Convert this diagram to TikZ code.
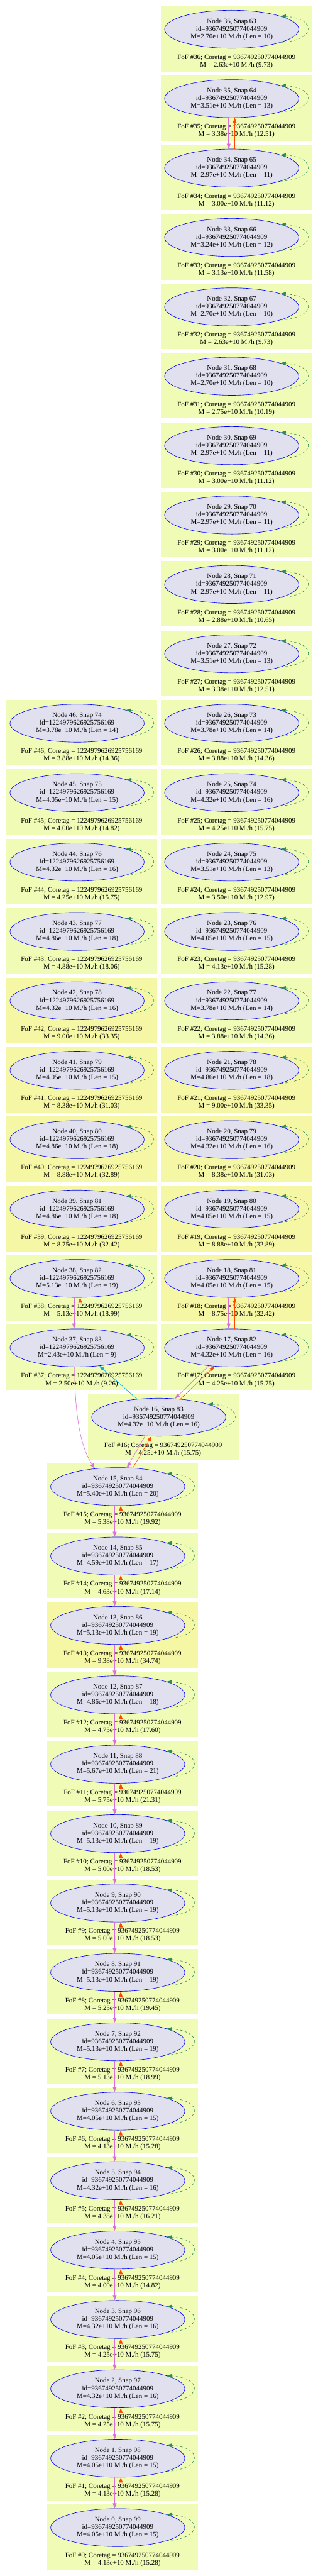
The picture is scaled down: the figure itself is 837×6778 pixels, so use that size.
\documentclass[tikz,border=0pt]{standalone}
\usepackage{fontspec}
\setmainfont{Liberation Serif}
\usetikzlibrary{shapes.geometric, arrows.meta}

\definecolor{halofill}{RGB}{224,224,238}
\definecolor{boxa}{RGB}{240,251,182}
\definecolor{boxb}{RGB}{246,247,164}
\definecolor{orchidpink}{RGB}{218,112,214}
\definecolor{redorange}{RGB}{255,69,0}
\definecolor{loopgreen}{RGB}{46,139,87}

\begin{document}
\begin{tikzpicture}[x=0.75pt, y=-0.75pt]

  \tikzstyle{halo} = [ellipse, draw=blue, fill=halofill, line width=0.8pt, minimum width=265pt, minimum height=75pt, inner sep=0pt, align=center, font=\fontsize{13.6}{15}\selectfont]
  \tikzstyle{fof} = [align=center, font=\fontsize{13.6}{15}\selectfont]
  \tikzstyle{tip} = [-{Triangle[length=10pt, width=7.5pt]}]
  \tikzstyle{descent} = [tip, draw=orchidpink, line width=0.8pt]
  \tikzstyle{progenitor} = [tip, draw=redorange, line width=0.8pt]
  \tikzstyle{selfedge} = [tip, draw=loopgreen, line width=0.8pt, dash pattern=on 4.5pt off 4.5pt]

  \fill[white] (0,0) rectangle (837,6778);
  \useasboundingbox (0,0) rectangle (837,6778);

  % main branch, snaps 63 to 82
  \foreach \nn/\snap/\mass/\hlen/\fmass/\fratio/\shade in {36/63/2.70/10/2.63/9.73/boxa, 35/64/3.51/13/3.38/12.51/boxa, 34/65/2.97/11/3.00/11.12/boxa, 33/66/3.24/12/3.13/11.58/boxa, 32/67/2.70/10/2.63/9.73/boxa, 31/68/2.70/10/2.75/10.19/boxa, 30/69/2.97/11/3.00/11.12/boxa, 29/70/2.97/11/3.00/11.12/boxa, 28/71/2.97/11/2.88/10.65/boxa, 27/72/3.51/13/3.38/12.51/boxa, 26/73/3.78/14/3.88/14.36/boxa, 25/74/4.32/16/4.25/15.75/boxa, 24/75/3.51/13/3.50/12.97/boxa, 23/76/4.05/15/4.13/15.28/boxa, 22/77/3.78/14/3.88/14.36/boxa, 21/78/4.86/18/9.00/33.35/boxb, 20/79/4.32/16/8.38/31.03/boxb, 19/80/4.05/15/8.88/32.89/boxb, 18/81/4.05/15/8.75/32.42/boxb, 17/82/4.32/16/4.25/15.75/boxa} {
    \pgfmathsetmacro\cy{77+182.6*(36-\nn)}
    \fill[\shade] (423,\cy-61) rectangle (822,\cy+111);
    \node (n\nn) [halo] at (610,\cy) {Node \nn, Snap \snap\\id=936749250774044909\\M=\mass e+10 M./h (Len = \hlen)};
    \node (f\nn) [fof] at (622.5,\cy+85) {FoF \#\nn; Coretag = 936749250774044909\\M = \fmass e+10 M./h (\fratio)};
    \draw[selfedge] (n\nn.-15) .. controls +(95,-6) and +(95,6) .. (n\nn.15);
  }

  % merging branch, snaps 74 to 83
  \foreach \nn/\snap/\mass/\hlen/\fmass/\fratio/\shade in {46/74/3.78/14/3.88/14.36/boxa, 45/75/4.05/15/4.00/14.82/boxa, 44/76/4.32/16/4.25/15.75/boxa, 43/77/4.86/18/4.88/18.06/boxa, 42/78/4.32/16/9.00/33.35/boxb, 41/79/4.05/15/8.38/31.03/boxb, 40/80/4.86/18/8.88/32.89/boxb, 39/81/4.86/18/8.75/32.42/boxb, 38/82/5.13/19/5.13/18.99/boxa, 37/83/2.43/9/2.50/9.26/boxa} {
    \pgfmathsetmacro\cy{77+182.6*(56-\nn)}
    \fill[\shade] (16,\cy-61) rectangle (414,\cy+111);
    \node (n\nn) [halo] at (203,\cy) {Node \nn, Snap \snap\\id=1224979626925756169\\M=\mass e+10 M./h (Len = \hlen)};
    \node (f\nn) [fof] at (215,\cy+85) {FoF \#\nn; Coretag = 1224979626925756169\\M = \fmass e+10 M./h (\fratio)};
    \draw[selfedge] (n\nn.-15) .. controls +(95,-6) and +(95,6) .. (n\nn.15);
  }

  % node 16
  \fill[boxa] (231,3668) rectangle (628,3840);
  \node (n16) [halo] at (418,3729) {Node 16, Snap 83\\id=936749250774044909\\M=4.32e+10 M./h (Len = 16)};
  \node (f16) [fof] at (429.5,3814) {FoF \#16; Coretag = 936749250774044909\\M = 4.25e+10 M./h (15.75)};
  \draw[selfedge] (n16.-15) .. controls +(95,-6) and +(95,6) .. (n16.15);

  % after the merger, snaps 84 to 99
  \foreach \nn/\snap/\mass/\hlen/\fmass/\fratio/\shade in {15/84/5.40/20/5.38/19.92/boxa, 14/85/4.59/17/4.63/17.14/boxa, 13/86/5.13/19/9.38/34.74/boxb, 12/87/4.86/18/4.75/17.60/boxa, 11/88/5.67/21/5.75/21.31/boxa, 10/89/5.13/19/5.00/18.53/boxa, 9/90/5.13/19/5.00/18.53/boxa, 8/91/5.13/19/5.25/19.45/boxa, 7/92/5.13/19/5.13/18.99/boxa, 6/93/4.05/15/4.13/15.28/boxa, 5/94/4.32/16/4.38/16.21/boxa, 4/95/4.05/15/4.00/14.82/boxa, 3/96/4.32/16/4.25/15.75/boxa, 2/97/4.32/16/4.25/15.75/boxa, 1/98/4.05/15/4.13/15.28/boxa, 0/99/4.05/15/4.13/15.28/boxa} {
    \pgfmathsetmacro\cy{77+182.6*(36-\nn)}
    \fill[\shade] (123,\cy-61) rectangle (522,\cy+111);
    \node (n\nn) [halo] at (310,\cy) {Node \nn, Snap \snap\\id=936749250774044909\\M=\mass e+10 M./h (Len = \hlen)};
    \node (f\nn) [fof] at (322.5,\cy+85) {FoF \#\nn; Coretag = 936749250774044909\\M = \fmass e+10 M./h (\fratio)};
    \draw[selfedge] (n\nn.-15) .. controls +(95,-6) and +(95,6) .. (n\nn.15);
  }

  % links along each branch
  \foreach \lo in {0,...,14, 17,...,35, 37,...,45} {
    \pgfmathtruncatemacro\hi{\lo+1}
    \draw[descent] ([xshift=-6pt]n\hi.south) -- ([xshift=-6pt]n\lo.north);
    \draw[progenitor] ([xshift=6pt]n\lo.north) -- ([xshift=6pt]n\hi.south);
  }

  % links around the merger
  \draw[descent] (n17.218) -- (n16.49);
  \draw[progenitor] (n16.40) -- (n17.227);
  \draw[descent] (n16.234) -- (n15.64);
  \draw[progenitor] (n15.51) -- (n16.249);
  \draw[tip, draw=cyan, line width=0.8pt] (n16.140) -- (n37.-39);
  \draw[descent] ([xshift=-5pt]n37.south) .. controls +(1,160) and +(-29,-46) .. (n15.142);

\end{tikzpicture}
\end{document}
